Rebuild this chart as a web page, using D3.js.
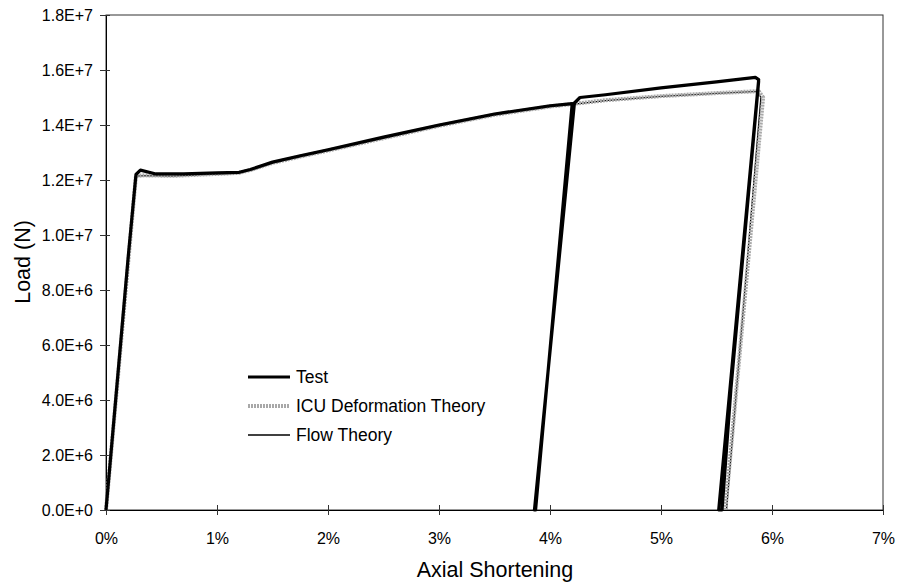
<!DOCTYPE html>
<html><head><meta charset="utf-8">
<script src="https://cdn.jsdelivr.net/npm/d3@7"></script>
<style>
body{margin:0;background:#fff;}
text{font-family:"Liberation Sans",Arial,sans-serif;fill:#000;}
</style></head>
<body><svg id="c" width="898" height="585"></svg>
<script>
// strain (%) , load (N)
const testX = [0, 0.10, 0.20, 0.27, 0.31, 0.45, 0.7, 1.0, 1.2, 1.3, 1.4, 1.5, 1.75, 2.0, 2.5, 3.0, 3.5, 4.0, 4.2, 3.87, 3.86, 4.22, 4.27, 4.5, 5.0, 5.5, 5.85, 5.88, 5.52, 5.55, 5.63, 5.88];
const testY = [0, 4.6e6, 9.2e6, 1.22e7, 1.236e7, 1.222e7, 1.222e7, 1.226e7, 1.228e7, 1.238e7, 1.252e7, 1.265e7, 1.288e7, 1.31e7, 1.356e7, 1.40e7, 1.44e7, 1.47e7, 1.478e7, 0, 0, 1.48e7, 1.50e7, 1.51e7, 1.535e7, 1.557e7, 1.573e7, 1.565e7, 0, 0, 4.4e6, 1.56e7];
const icuX = [0, 0.10, 0.20, 0.27, 0.35, 0.6, 1.0, 1.2, 1.3, 1.4, 1.5, 1.75, 2.0, 2.5, 3.0, 3.5, 4.0, 4.5, 5.0, 5.5, 5.88, 5.92, 5.58];
const icuY = [0, 4.5e6, 9.0e6, 1.215e7, 1.217e7, 1.215e7, 1.222e7, 1.226e7, 1.236e7, 1.249e7, 1.262e7, 1.285e7, 1.307e7, 1.352e7, 1.397e7, 1.437e7, 1.467e7, 1.49e7, 1.505e7, 1.516e7, 1.523e7, 1.5e7, 0];
const flowX = [0, 0.10, 0.20, 0.27, 0.35, 0.6, 1.0, 1.2, 1.3, 1.4, 1.5, 1.75, 2.0, 2.5, 3.0, 3.5, 4.0, 4.5, 5.0, 5.5, 5.87, 5.90, 5.59];
const flowY = [0, 4.5e6, 9.0e6, 1.214e7, 1.216e7, 1.214e7, 1.221e7, 1.225e7, 1.235e7, 1.248e7, 1.261e7, 1.284e7, 1.306e7, 1.351e7, 1.396e7, 1.436e7, 1.466e7, 1.489e7, 1.504e7, 1.515e7, 1.522e7, 1.50e7, 0];
const xTicks = [0,1,2,3,4,5,6,7];
const yTicks = [0,2e6,4e6,6e6,8e6,1e7,1.2e7,1.4e7,1.6e7,1.8e7];
const yTickLabels = ["0.0E+0","2.0E+6","4.0E+6","6.0E+6","8.0E+6","1.0E+7","1.2E+7","1.4E+7","1.6E+7","1.8E+7"];
const seriesNames = ["Test","ICU Deformation Theory","Flow Theory"];

const svg = d3.select("#c");
const L=106, R=883, T=15, B=510;
const x = d3.scaleLinear().domain([0,7]).range([L,R]);
const y = d3.scaleLinear().domain([0,1.8e7]).range([B,T]);

// frame
svg.append("rect").attr("x",L).attr("y",T).attr("width",R-L).attr("height",B-T)
  .attr("fill","none").attr("stroke","#333").attr("stroke-width",1);

// axes with cross ticks
const gx = svg.append("g").attr("transform",`translate(0,${B})`)
  .call(d3.axisBottom(x).tickValues(xTicks).tickFormat(d=>d+"%").tickSize(5).tickSizeOuter(0));
gx.attr("font-size",null).attr("font-family",null);
gx.select(".domain").attr("stroke","#000");
gx.selectAll(".tick line").attr("y1",-5).attr("y2",5).attr("stroke","#333");
gx.selectAll(".tick text").attr("y",23).attr("font-size","16px");

const gy = svg.append("g").attr("transform",`translate(${L},0)`)
  .call(d3.axisLeft(y).tickValues(yTicks).tickFormat((d,i)=>yTickLabels[i]).tickSize(5).tickSizeOuter(0));
gy.attr("font-size",null).attr("font-family",null);
gy.select(".domain").attr("stroke","#000");
gy.selectAll(".tick line").attr("x1",-6).attr("x2",4).attr("stroke","#333");
gy.selectAll(".tick text").attr("x",-13).attr("font-size","16px");
svg.selectAll(".tick text").attr("fill","#000");

// titles
svg.append("text").attr("x",495).attr("y",577).attr("text-anchor","middle").attr("font-size","21.5px").text("Axial Shortening");
svg.append("text").attr("transform","translate(30,262) rotate(-90)").attr("text-anchor","middle").attr("font-size","21.5px").text("Load (N)");

const line = d3.line().x(d=>x(d[0])).y(d=>y(d[1]));
const zip = (a,b)=>a.map((v,i)=>[v,b[i]]);

const styles = [
  {stroke:"#000", width:3.2, dash:null},
  {stroke:"#a8a8a8", width:4, dash:"2,1"},
  {stroke:"#000", width:1.3, dash:null}
];
svg.append("path").attr("d",line(zip(flowX,flowY))).attr("fill","none")
  .attr("stroke",styles[2].stroke).attr("stroke-width",styles[2].width).attr("stroke-linejoin","round");
svg.append("path").attr("d",line(zip(icuX,icuY))).attr("fill","none")
  .attr("stroke",styles[1].stroke).attr("stroke-width",styles[1].width).attr("stroke-dasharray",styles[1].dash).attr("stroke-linejoin","round");
svg.append("path").attr("d",line(zip(testX,testY))).attr("fill","none")
  .attr("stroke",styles[0].stroke).attr("stroke-width",styles[0].width).attr("stroke-linejoin","round");

// legend
const lg = svg.append("g");
seriesNames.forEach((n,i)=>{
  const yy = 377 + i*29;
  lg.append("line").attr("x1",248).attr("x2",290).attr("y1",yy).attr("y2",yy)
    .attr("stroke",styles[i].stroke).attr("stroke-width",styles[i].width).attr("stroke-dasharray",styles[i].dash);
  lg.append("text").attr("x",296).attr("y",yy+6).attr("font-size","17.5px").text(n);
});
</script></body></html>
